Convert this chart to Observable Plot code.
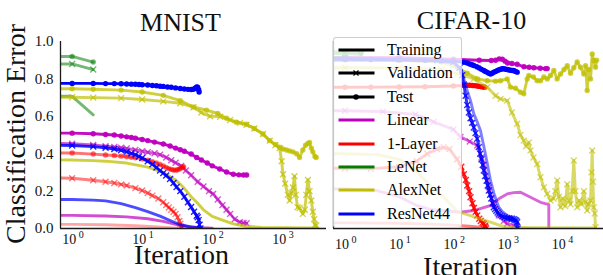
<!DOCTYPE html>
<html><head><meta charset="utf-8">
<script src="https://cdn.jsdelivr.net/npm/d3@7"></script>
<script src="https://cdn.jsdelivr.net/npm/@observablehq/plot@0.6"></script>
<style>
body{margin:0;background:#fff;}
#wrap{position:relative;width:603px;height:275px;overflow:hidden;background:#fff;font-family:"Liberation Serif","Times New Roman",serif;}
#left,#right{position:absolute;top:0;}
#left{left:0}
#right{left:330px}
#ylabel{position:absolute;left:-104.5px;top:120px;width:240px;height:28px;line-height:28px;font-size:28px;text-align:center;color:#111;transform:rotate(-90deg);transform-origin:50% 50%;white-space:nowrap;}
#legend{position:absolute;left:333px;top:37px;width:129px;height:191px;box-sizing:border-box;border:1px solid rgba(200,200,200,0.9);border-radius:3px;background:rgba(255,255,255,0.8);}
.ent{position:absolute;left:0;height:20px;width:127px;}
.ent svg{position:absolute;left:4px;top:6px;}
.lb{position:absolute;left:53px;top:0;font-size:16px;line-height:20px;color:#000;white-space:nowrap}
</style></head>
<body>
<div id="wrap"><div id="left"></div><div id="right"></div><div id="ylabel">Classification Error</div><div id="legend"></div></div>
<script>
// ---------- tick values ----------
const Y_TICKS = [0, 0.2, 0.4, 0.6, 0.8, 1.0];
const X_TICKS_MNIST = [1, 10, 100, 1000];
const X_TICKS_CIFAR = [1, 10, 100, 1000, 10000];
const MODELS = ["Linear", "1-Layer", "LeNet", "AlexNet", "ResNet44"];
const SPLITS = ["Training", "Validation", "Test"];

// ---------- MNIST: [iteration, classification error] ----------
const MNIST_Linear_train = [[0.68,0.07],[1,0.07],[3,0.067],[6,0.062],[12,0.052],[20,0.038],[30,0.022],[45,0.01],[70,0.004],[100,0.002]];
const MNIST_Linear_val = [[0.68,0.455],[1,0.453],[2,0.447],[3,0.44],[4,0.436],[5,0.432],[6,0.428],[8,0.42],[10,0.413],[12,0.408],[15,0.402],[18,0.395],[22,0.38],[26,0.365],[30,0.352],[36,0.335],[42,0.31],[50,0.285],[62,0.25],[75,0.225],[90,0.2],[103,0.185],[120,0.155],[140,0.125],[160,0.1],[180,0.078],[210,0.05],[248,0.034],[280,0.029],[310,0.028]];
const MNIST_Linear_test = [[0.68,0.51],[1,0.51],[2,0.507],[3,0.503],[4,0.5],[5,0.495],[6,0.49],[7,0.487],[8,0.483],[10,0.476],[12,0.47],[15,0.462],[20,0.452],[25,0.441],[30,0.43],[35,0.421],[40,0.413],[50,0.398],[60,0.38],[70,0.366],[85,0.35],[100,0.335],[128,0.318],[160,0.302],[200,0.29],[240,0.287],[280,0.286],[310,0.286]];
const MNIST_1Layer_train = [[0.68,0.022],[1,0.022],[3,0.02],[8,0.015],[15,0.01],[25,0.004],[37,0.0]];
const MNIST_1Layer_val = [[0.68,0.27],[1,0.269],[2,0.258],[3,0.25],[4,0.243],[5,0.236],[6,0.23],[8,0.216],[10,0.203],[12,0.19],[14,0.176],[17,0.16],[20,0.14],[22,0.125],[24,0.112],[26,0.1],[28,0.09],[30,0.078],[32,0.06],[34,0.04],[35,0.025],[36,0.01],[37,0.0]];
const MNIST_1Layer_test = [[0.68,0.404],[1,0.404],[2,0.398],[3,0.393],[4,0.39],[5,0.387],[6,0.384],[7,0.381],[8,0.378],[10,0.372],[12,0.365],[14,0.357],[16,0.35],[18,0.342],[20,0.334],[22,0.326],[24,0.32],[26,0.316],[28,0.313],[30,0.312],[32,0.314],[34,0.318],[36,0.323],[38,0.328],[39,0.33]];
const MNIST_LeNet_train = [[0.68,0.707],[1,0.707],[2,0.608]];
const MNIST_LeNet_val = [[0.68,0.88],[1,0.88],[2,0.85]];
const MNIST_LeNet_test = [[0.68,0.92],[1,0.92],[2,0.89]];
const MNIST_AlexNet_train = [[0.68,0.367],[1,0.366],[2,0.363],[3,0.36],[6,0.35],[12,0.328],[20,0.3],[30,0.26],[40,0.215],[50,0.17],[60,0.14],[75,0.1],[100,0.065],[140,0.045],[200,0.025],[300,0.012],[500,0.006],[1000,0.004],[2000,0.003],[3200,0.003]];
const MNIST_AlexNet_val = [[0.68,0.702],[1,0.702],[2,0.7],[5,0.697],[10,0.69],[20,0.68],[35,0.67],[54,0.648],[70,0.62],[93,0.6],[130,0.598],[180,0.58],[250,0.565],[308,0.555],[400,0.535],[531,0.505],[662,0.47],[800,0.445],[918,0.43],[980,0.36],[1024,0.29],[1100,0.24],[1200,0.18],[1274,0.15],[1350,0.19],[1420,0.22],[1495,0.28],[1560,0.18],[1655,0.114],[1767,0.11],[1968,0.078],[2100,0.1],[2200,0.18],[2322,0.26],[2450,0.2],[2600,0.15],[2733,0.09],[2850,0.05],[2930,0.02],[3055,0.016]];
const MNIST_AlexNet_test = [[0.68,0.747],[1,0.747],[2,0.745],[5,0.74],[10,0.73],[20,0.712],[35,0.684],[54,0.65],[83,0.633],[120,0.615],[160,0.59],[220,0.568],[308,0.558],[400,0.535],[531,0.505],[662,0.47],[800,0.45],[918,0.435],[1024,0.425],[1150,0.42],[1274,0.415],[1420,0.41],[1600,0.4],[1767,0.38],[1968,0.42],[2150,0.445],[2322,0.455],[2453,0.46],[2600,0.43],[2733,0.41],[2930,0.385],[3055,0.38]];
const MNIST_ResNet_train = [[0.68,0.155],[1,0.155],[2,0.152],[3,0.148],[5,0.133],[8,0.112],[12,0.09],[18,0.066],[25,0.043],[35,0.02],[50,0.008],[65,0.003]];
const MNIST_ResNet_val = [[0.68,0.445],[1,0.444],[2,0.438],[3,0.432],[4,0.425],[5,0.418],[6,0.41],[7,0.402],[8,0.395],[9,0.385],[10,0.377],[12,0.36],[14,0.343],[16,0.326],[18,0.31],[20,0.296],[22,0.283],[25,0.265],[28,0.243],[31,0.222],[35,0.2],[40,0.17],[45,0.14],[50,0.115],[55,0.09],[60,0.068],[62,0.06],[64,0.045],[66,0.02],[68,0.0]];
const MNIST_ResNet_test = [[0.68,0.776],[1,0.776],[2,0.776],[3,0.775],[4,0.775],[5,0.774],[6,0.773],[7,0.772],[8,0.771],[9,0.77],[10,0.769],[12,0.767],[14,0.765],[16,0.763],[18,0.761],[20,0.76],[23,0.757],[26,0.755],[30,0.752],[35,0.749],[40,0.746],[45,0.744],[50,0.743],[54,0.745],[57,0.75],[60,0.757],[62,0.755],[64,0.742],[65,0.73]];

// ---------- CIFAR-10: [iteration, classification error] ----------
const CIFAR_Linear_train = [[0.61,0.212],[1,0.212],[3.86,0.203],[10,0.17],[21,0.123],[40,0.1],[66,0.096],[135,0.087],[238,0.096],[484,0.123],[700,0.16],[984,0.185],[1300,0.192],[1730,0.194],[2647,0.167],[4047,0.14],[5380,0.13],[5755,0.128],[5760,0.0]];
const CIFAR_Linear_val = [[0.61,0.63],[1,0.63],[5,0.625],[20,0.61],[43,0.57],[100,0.53],[135,0.49],[200,0.465],[275,0.444],[330,0.38],[364,0.34],[450,0.22],[556,0.13],[688,0.07],[851,0.04],[984,0.025],[1300,0.015],[1500,0.01]];
const CIFAR_Linear_test = [[0.61,0.915],[1,0.915],[10,0.913],[100,0.905],[300,0.9],[500,0.898],[600,0.9],[700,0.907],[800,0.905],[900,0.895],[1000,0.885],[1200,0.882],[1500,0.878],[2000,0.865],[2500,0.862],[3044,0.86],[4000,0.857],[5000,0.855],[5380,0.855]];
const CIFAR_1Layer_train = [[0.61,0.03],[1,0.03],[10,0.028],[50,0.022],[100,0.018],[200,0.012],[400,0.004]];
const CIFAR_1Layer_val = [[0.61,0.322],[1,0.322],[3,0.32],[10,0.33],[21,0.36],[33,0.4],[50,0.425],[66,0.434],[85,0.425],[117,0.37],[140,0.33],[156,0.29],[170,0.26],[180,0.23],[195,0.2],[207,0.167],[225,0.135],[240,0.11],[258,0.09],[275,0.07],[300,0.052],[320,0.04],[345,0.03],[364,0.025],[380,0.015],[390,0.01],[400,0.0]];
const CIFAR_1Layer_test = [[0.61,0.755],[1,0.755],[3,0.756],[10,0.757],[30,0.758],[100,0.762],[156,0.765],[180,0.766],[200,0.766],[225,0.765],[250,0.764],[275,0.762],[300,0.76],[330,0.758],[364,0.756],[380,0.755]];
const CIFAR_LeNet_train = [[0.61,0.915],[1,0.915],[2,0.9]];
const CIFAR_LeNet_val = [[0.61,0.935],[1,0.935],[2,0.93]];
const CIFAR_LeNet_test = [[0.61,0.945],[1,0.945],[2,0.94]];
const CIFAR_AlexNet_train = [[0.61,0.4],[1,0.4],[4,0.395],[10,0.37],[20,0.31],[37,0.23],[66,0.167],[120,0.09],[200,0.07],[320,0.05],[484,0.034],[740,0.015],[1000,0.007],[3000,0.004],[42000,0.003]];
const CIFAR_AlexNet_val = [[0.61,0.86],[1,0.86],[10,0.858],[60,0.85],[150,0.82],[238,0.8],[421,0.756],[600,0.71],[739,0.693],[984,0.684],[1200,0.62],[1503,0.56],[1730,0.5],[1991,0.47],[2200,0.44],[2461,0.46],[2647,0.417],[3000,0.38],[3515,0.345],[4047,0.274],[4660,0.22],[5380,0.185],[6190,0.15],[7000,0.16],[7600,0.2],[8230,0.257],[8800,0.17],[9470,0.114],[10500,0.16],[11500,0.12],[12600,0.237],[13500,0.15],[14500,0.13],[15500,0.2],[16650,0.364],[17800,0.2],[19200,0.114],[21000,0.15],[23000,0.13],[25500,0.2],[27500,0.14],[29400,0.096],[31500,0.13],[33900,0.15],[35200,0.3],[36400,0.417],[37500,0.25],[38900,0.114],[40500,0.08],[41900,0.007]];
const CIFAR_AlexNet_test = [[0.61,0.9],[1,0.9],[10,0.898],[60,0.89],[120,0.86],[180,0.83],[280,0.8],[421,0.79],[600,0.788],[739,0.79],[984,0.8],[1132,0.756],[1400,0.75],[1730,0.729],[1991,0.72],[2300,0.8],[2461,0.818],[3000,0.81],[3500,0.79],[4047,0.79],[4660,0.81],[5400,0.8],[6190,0.818],[7120,0.845],[8200,0.8],[9470,0.826],[11000,0.85],[12600,0.87],[14500,0.83],[16650,0.86],[19200,0.89],[22100,0.862],[25500,0.826],[27500,0.87],[29400,0.738],[31500,0.85],[33900,0.8],[36400,0.933],[38900,0.898],[41900,0.862],[44000,0.9]];
const CIFAR_ResNet_train = [[0.61,0.9],[1,0.9],[10,0.9],[50,0.895],[100,0.885],[140,0.85],[170,0.76],[207,0.684],[238,0.613],[275,0.57],[316,0.524],[364,0.44],[420,0.35],[484,0.257],[556,0.19],[620,0.15],[688,0.114],[800,0.09],[984,0.07],[1132,0.055],[1301,0.04],[1503,0.025]];
const CIFAR_ResNet_val = [[0.61,0.91],[1,0.91],[10,0.905],[50,0.9],[100,0.89],[130,0.86],[145,0.82],[156,0.77],[168,0.71],[180,0.66],[193,0.62],[207,0.59],[222,0.565],[238,0.54],[256,0.51],[275,0.48],[294,0.435],[312,0.4],[330,0.37],[347,0.34],[364,0.31],[385,0.28],[410,0.255],[430,0.23],[450,0.203],[475,0.18],[500,0.16],[528,0.135],[556,0.114],[590,0.104],[620,0.095],[655,0.086],[688,0.078],[740,0.07],[800,0.065],[880,0.06],[984,0.056],[1060,0.055],[1132,0.053],[1210,0.052],[1301,0.05],[1380,0.046],[1450,0.042],[1503,0.034],[1530,0.0]];
const CIFAR_ResNet_test = [[0.61,0.905],[1,0.905],[3,0.904],[10,0.902],[30,0.9],[60,0.897],[100,0.894],[156,0.889],[180,0.885],[200,0.88],[220,0.876],[238,0.872],[270,0.865],[300,0.858],[330,0.851],[364,0.845],[390,0.84],[420,0.835],[450,0.83],[484,0.826],[520,0.83],[556,0.836],[600,0.84],[650,0.845],[700,0.849],[750,0.852],[800,0.854],[851,0.854],[920,0.852],[984,0.85],[1060,0.848],[1132,0.846],[1220,0.845],[1301,0.845],[1400,0.84],[1503,0.836]];

const COLORS = {"Linear":"#bf00bf","1-Layer":"#ff0000","LeNet":"#008000","AlexNet":"#bfbf00","ResNet44":"#0000ff"};

const MNIST_SERIES = [
  ["Linear","train",MNIST_Linear_train],["Linear","val",MNIST_Linear_val],["Linear","test",MNIST_Linear_test],
  ["1-Layer","train",MNIST_1Layer_train],["1-Layer","val",MNIST_1Layer_val],["1-Layer","test",MNIST_1Layer_test],
  ["LeNet","train",MNIST_LeNet_train],["LeNet","val",MNIST_LeNet_val],["LeNet","test",MNIST_LeNet_test],
  ["AlexNet","train",MNIST_AlexNet_train],["AlexNet","val",MNIST_AlexNet_val],["AlexNet","test",MNIST_AlexNet_test],
  ["ResNet44","train",MNIST_ResNet_train],["ResNet44","val",MNIST_ResNet_val],["ResNet44","test",MNIST_ResNet_test]
];
const CIFAR_SERIES = [
  ["Linear","train",CIFAR_Linear_train],["Linear","val",CIFAR_Linear_val],["Linear","test",CIFAR_Linear_test],
  ["1-Layer","train",CIFAR_1Layer_train],["1-Layer","val",CIFAR_1Layer_val],["1-Layer","test",CIFAR_1Layer_test],
  ["LeNet","train",CIFAR_LeNet_train],["LeNet","val",CIFAR_LeNet_val],["LeNet","test",CIFAR_LeNet_test],
  ["AlexNet","train",CIFAR_AlexNet_train],["AlexNet","val",CIFAR_AlexNet_val],["AlexNet","test",CIFAR_AlexNet_test],
  ["ResNet44","train",CIFAR_ResNet_train],["ResNet44","val",CIFAR_ResNet_val],["ResNet44","test",CIFAR_ResNet_test]
];

// ---------- styles (opacity per model/split) ----------
const ALPHA_MNIST = {
  "Linear":{train:0.7,val:0.65,test:0.95}, "1-Layer":{train:0.35,val:0.5,test:0.55},
  "LeNet":{train:0.55,val:0.55,test:0.55}, "AlexNet":{train:0.75,val:0.7,test:0.75},
  "ResNet44":{train:0.7,val:0.85,test:1}
};
const ALPHA_CIFAR = {
  "Linear":{train:0.6,val:0.6,test:0.95}, "1-Layer":{train:0.5,val:0.85,test:1},
  "LeNet":{train:0.6,val:0.6,test:0.6}, "AlexNet":{train:0.6,val:0.6,test:0.75},
  "ResNet44":{train:0.5,val:0.8,test:1}
};
const FONT = '"Liberation Serif","Times New Roman",serif';

function panel(o) {
  const marks = [];
  for (const [model, split, pts] of o.series) {
    const c = COLORS[model], a = o.alpha[model][split];
    marks.push(Plot.line(pts, {x: d => d[0], y: d => d[1], stroke: c, strokeWidth: 2.9, strokeOpacity: a, clip: true}));
    const mk = pts.filter(d => d[0] >= 1);
    if (split === "val") marks.push(Plot.dot(mk, {x: d => d[0], y: d => d[1], symbol: "times", r: 2.8, stroke: c, strokeWidth: 1.4, strokeOpacity: a, clip: true}));
    if (split === "test") marks.push(Plot.dot(mk, {x: d => d[0], y: d => d[1], r: 2.7, fill: c, fillOpacity: a, stroke: "none", clip: true}));
  }
  // axis lines
  marks.push(Plot.ruleY([0], {stroke: "#1a1a1a", strokeWidth: 1.3}));
  marks.push(Plot.ruleX([o.xDomain[0]], {stroke: "#1a1a1a", strokeWidth: 1.3}));
  // x tick labels with superscript exponent
  marks.push(Plot.text(o.xTicks, {x: d => d, frameAnchor: "bottom", text: () => "10", textAnchor: "end", lineAnchor: "bottom", dx: 4, dy: o.tickDy, fontSize: 14, fill: "#111"}));
  marks.push(Plot.text(o.xTicks, {x: d => d, frameAnchor: "bottom", text: d => String(Math.round(Math.log10(d))), textAnchor: "start", lineAnchor: "bottom", dx: 6.5, dy: o.tickDy - 5.5, fontSize: 10, fill: "#111"}));
  if (o.yAxis) {
    marks.push(Plot.text(Y_TICKS, {y: d => d, frameAnchor: "left", text: d => d.toFixed(1), textAnchor: "end", lineAnchor: "middle", dx: -7, fontSize: 15, fill: "#111"}));
  }
  marks.push(Plot.text([o.title], {frameAnchor: "top", lineAnchor: "bottom", dx: o.titleDx, dy: o.titleDy, fontSize: 26, fill: "#111"}));
  marks.push(Plot.text(["Iteration"], {frameAnchor: "bottom", lineAnchor: "bottom", dx: o.labelDx, dy: o.labelDy, fontSize: 28, fill: "#111"}));
  return Plot.plot({
    width: o.width, height: 275, marginLeft: o.marginLeft, marginRight: o.marginRight, marginTop: 41, marginBottom: 47,
    x: {type: "log", domain: o.xDomain, axis: null},
    y: {domain: [0, 1], axis: null},
    style: {fontFamily: FONT, background: "transparent", overflow: "visible"},
    marks
  });
}

document.getElementById("left").appendChild(panel({
  series: MNIST_SERIES, alpha: ALPHA_MNIST, xDomain: [0.682, 4283], xTicks: X_TICKS_MNIST,
  width: 330, marginLeft: 60, marginRight: 4, tickDy: 15.3, yAxis: true,
  title: "MNIST", titleDx: -13, titleDy: -11, labelDx: -12, labelDy: 35
}));
document.getElementById("right").appendChild(panel({
  series: CIFAR_SERIES, alpha: ALPHA_CIFAR, xDomain: [0.614, 58800], xTicks: X_TICKS_CIFAR,
  width: 273, marginLeft: 3, marginRight: 0, tickDy: 20.3, yAxis: false,
  title: "CIFAR-10", titleDx: 3, titleDy: -12.7, labelDx: 2, labelDy: 47.5
}));

// ---------- legend ----------
const legend = document.getElementById("legend");
const entries = [
  ...SPLITS.map((s, i) => ({label: s, color: "#000", marker: i === 1 ? "x" : i === 2 ? "o" : null})),
  ...MODELS.map(m => ({label: m, color: COLORS[m], marker: null}))
];
entries.forEach((e, i) => {
  const div = document.createElement("div");
  div.className = "ent";
  div.style.top = (2 + i * 23.4) + "px";
  let mk = "";
  if (e.marker === "x") mk = '<path d="M15.5,1.5L20.5,6.5M15.5,6.5L20.5,1.5" stroke="#000" stroke-width="1.3"/>';
  if (e.marker === "o") mk = '<circle cx="18" cy="4" r="2.8" fill="#000"/>';
  div.innerHTML = '<svg width="37" height="8"><line x1="0.5" y1="4" x2="36.5" y2="4" stroke="' + e.color + '" stroke-width="3"/>' + mk + '</svg><span class="lb">' + e.label + '</span>';
  legend.appendChild(div);
});
</script>
</body></html>
